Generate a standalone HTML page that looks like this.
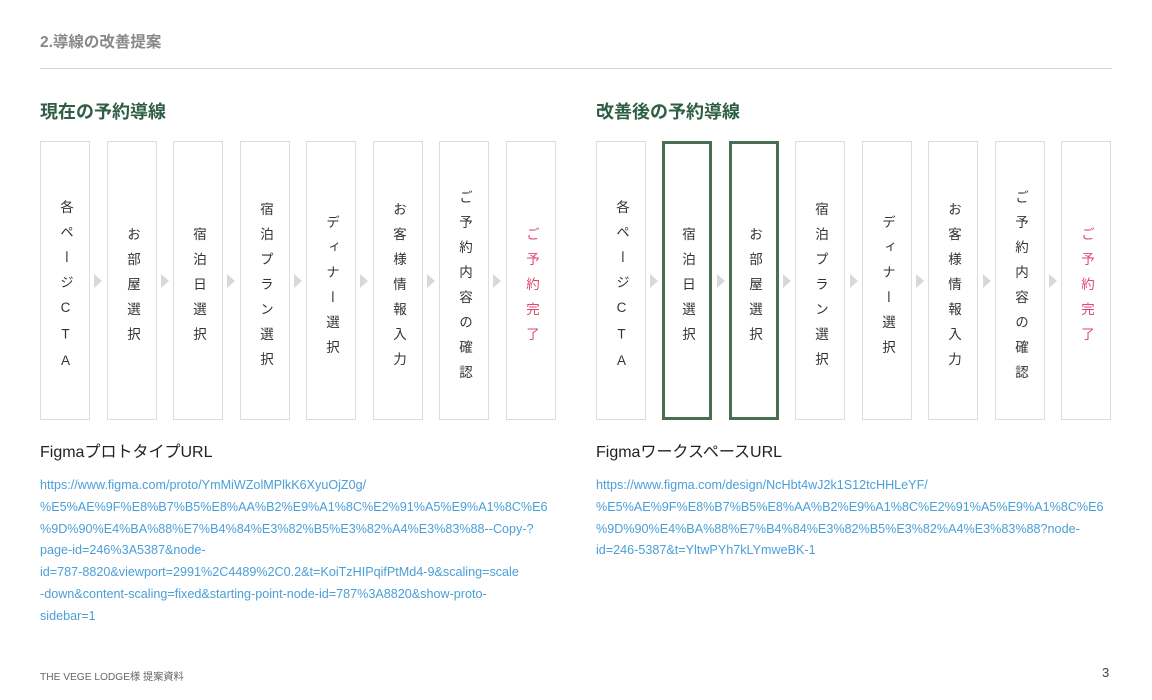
<!DOCTYPE html>
<html><head><meta charset="utf-8"><style>
body{margin:0;width:1152px;height:700px;background:#fff;position:relative;font-family:"Liberation Sans","Noto Sans CJK JP",sans-serif;overflow:hidden}
.a{position:absolute}
.t{left:40px;top:30px;font-size:15.5px;font-weight:bold;color:#888}
.hr{left:40px;top:68px;width:1072px;height:1px;background:#d6d6d6}
.h{top:98px;font-size:18px;font-weight:bold;color:#2e5e46}
.b{top:141px;width:48px;height:277px;border:1px solid #dcdcdc;display:flex;align-items:center;justify-content:center;box-sizing:content-box}
.b span{writing-mode:vertical-rl;text-orientation:upright;font-size:13.5px;font-weight:400;letter-spacing:11.5px;color:#333;margin-top:18px}
.g{border:3px solid #4a6e52;width:44px;height:273px}
.r span{color:#e0476e}
.ar{top:274px;width:0;height:0;border-top:7px solid transparent;border-bottom:7px solid transparent;border-left:8px solid #d8d8d8}
.l{top:438px;font-size:16px;color:#222}
.u{top:475px;font-size:12.6px;line-height:21.8px;color:#4a9fd8;width:540px;word-break:break-all}
.f{left:40px;top:668px;font-size:10.2px;color:#666}
.n{left:1102px;top:665px;font-size:13px;color:#444}
</style></head><body>
<div class="a t">2.導線の改善提案</div>
<div class="a hr"></div>
<div class="a h" style="left:40px">現在の予約導線</div>
<div class="a h" style="left:596px">改善後の予約導線</div>

<div class="a b" style="left:40px"><span>各ページCTA</span></div>
<div class="a b" style="left:107px"><span>お部屋選択</span></div>
<div class="a b" style="left:173px"><span>宿泊日選択</span></div>
<div class="a b" style="left:240px"><span>宿泊プラン選択</span></div>
<div class="a b" style="left:306px"><span>ディナー選択</span></div>
<div class="a b" style="left:373px"><span>お客様情報入力</span></div>
<div class="a b" style="left:439px"><span>ご予約内容の確認</span></div>
<div class="a b r" style="left:506px"><span>ご予約完了</span></div>
<div class="a ar" style="left:94px"></div>
<div class="a ar" style="left:161px"></div>
<div class="a ar" style="left:227px"></div>
<div class="a ar" style="left:294px"></div>
<div class="a ar" style="left:360px"></div>
<div class="a ar" style="left:427px"></div>
<div class="a ar" style="left:493px"></div>

<div class="a b" style="left:596px"><span>各ページCTA</span></div>
<div class="a b g" style="left:662px"><span>宿泊日選択</span></div>
<div class="a b g" style="left:729px"><span>お部屋選択</span></div>
<div class="a b" style="left:795px"><span>宿泊プラン選択</span></div>
<div class="a b" style="left:862px"><span>ディナー選択</span></div>
<div class="a b" style="left:928px"><span>お客様情報入力</span></div>
<div class="a b" style="left:995px"><span>ご予約内容の確認</span></div>
<div class="a b r" style="left:1061px"><span>ご予約完了</span></div>
<div class="a ar" style="left:650px"></div>
<div class="a ar" style="left:717px"></div>
<div class="a ar" style="left:783px"></div>
<div class="a ar" style="left:850px"></div>
<div class="a ar" style="left:916px"></div>
<div class="a ar" style="left:983px"></div>
<div class="a ar" style="left:1049px"></div>

<div class="a l" style="left:40px">FigmaプロトタイプURL</div>
<div class="a l" style="left:596px">FigmaワークスペースURL</div>
<div class="a u" style="left:40px">https://www.figma.com/proto/YmMiWZolMPlkK6XyuOjZ0g/<br>%E5%AE%9F%E8%B7%B5%E8%AA%B2%E9%A1%8C%E2%91%A5%E9%A1%8C%E6<br>%9D%90%E4%BA%88%E7%B4%84%E3%82%B5%E3%82%A4%E3%83%88--Copy-?<br>page-id=246%3A5387&amp;node-<br>id=787-8820&amp;viewport=2991%2C4489%2C0.2&amp;t=KoiTzHIPqifPtMd4-9&amp;scaling=scale<br>-down&amp;content-scaling=fixed&amp;starting-point-node-id=787%3A8820&amp;show-proto-<br>sidebar=1</div>
<div class="a u" style="left:596px">https://www.figma.com/design/NcHbt4wJ2k1S12tcHHLeYF/<br>%E5%AE%9F%E8%B7%B5%E8%AA%B2%E9%A1%8C%E2%91%A5%E9%A1%8C%E6<br>%9D%90%E4%BA%88%E7%B4%84%E3%82%B5%E3%82%A4%E3%83%88?node-<br>id=246-5387&amp;t=YltwPYh7kLYmweBK-1</div>
<div class="a f">THE VEGE LODGE様 提案資料</div>
<div class="a n">3</div>
</body></html>
